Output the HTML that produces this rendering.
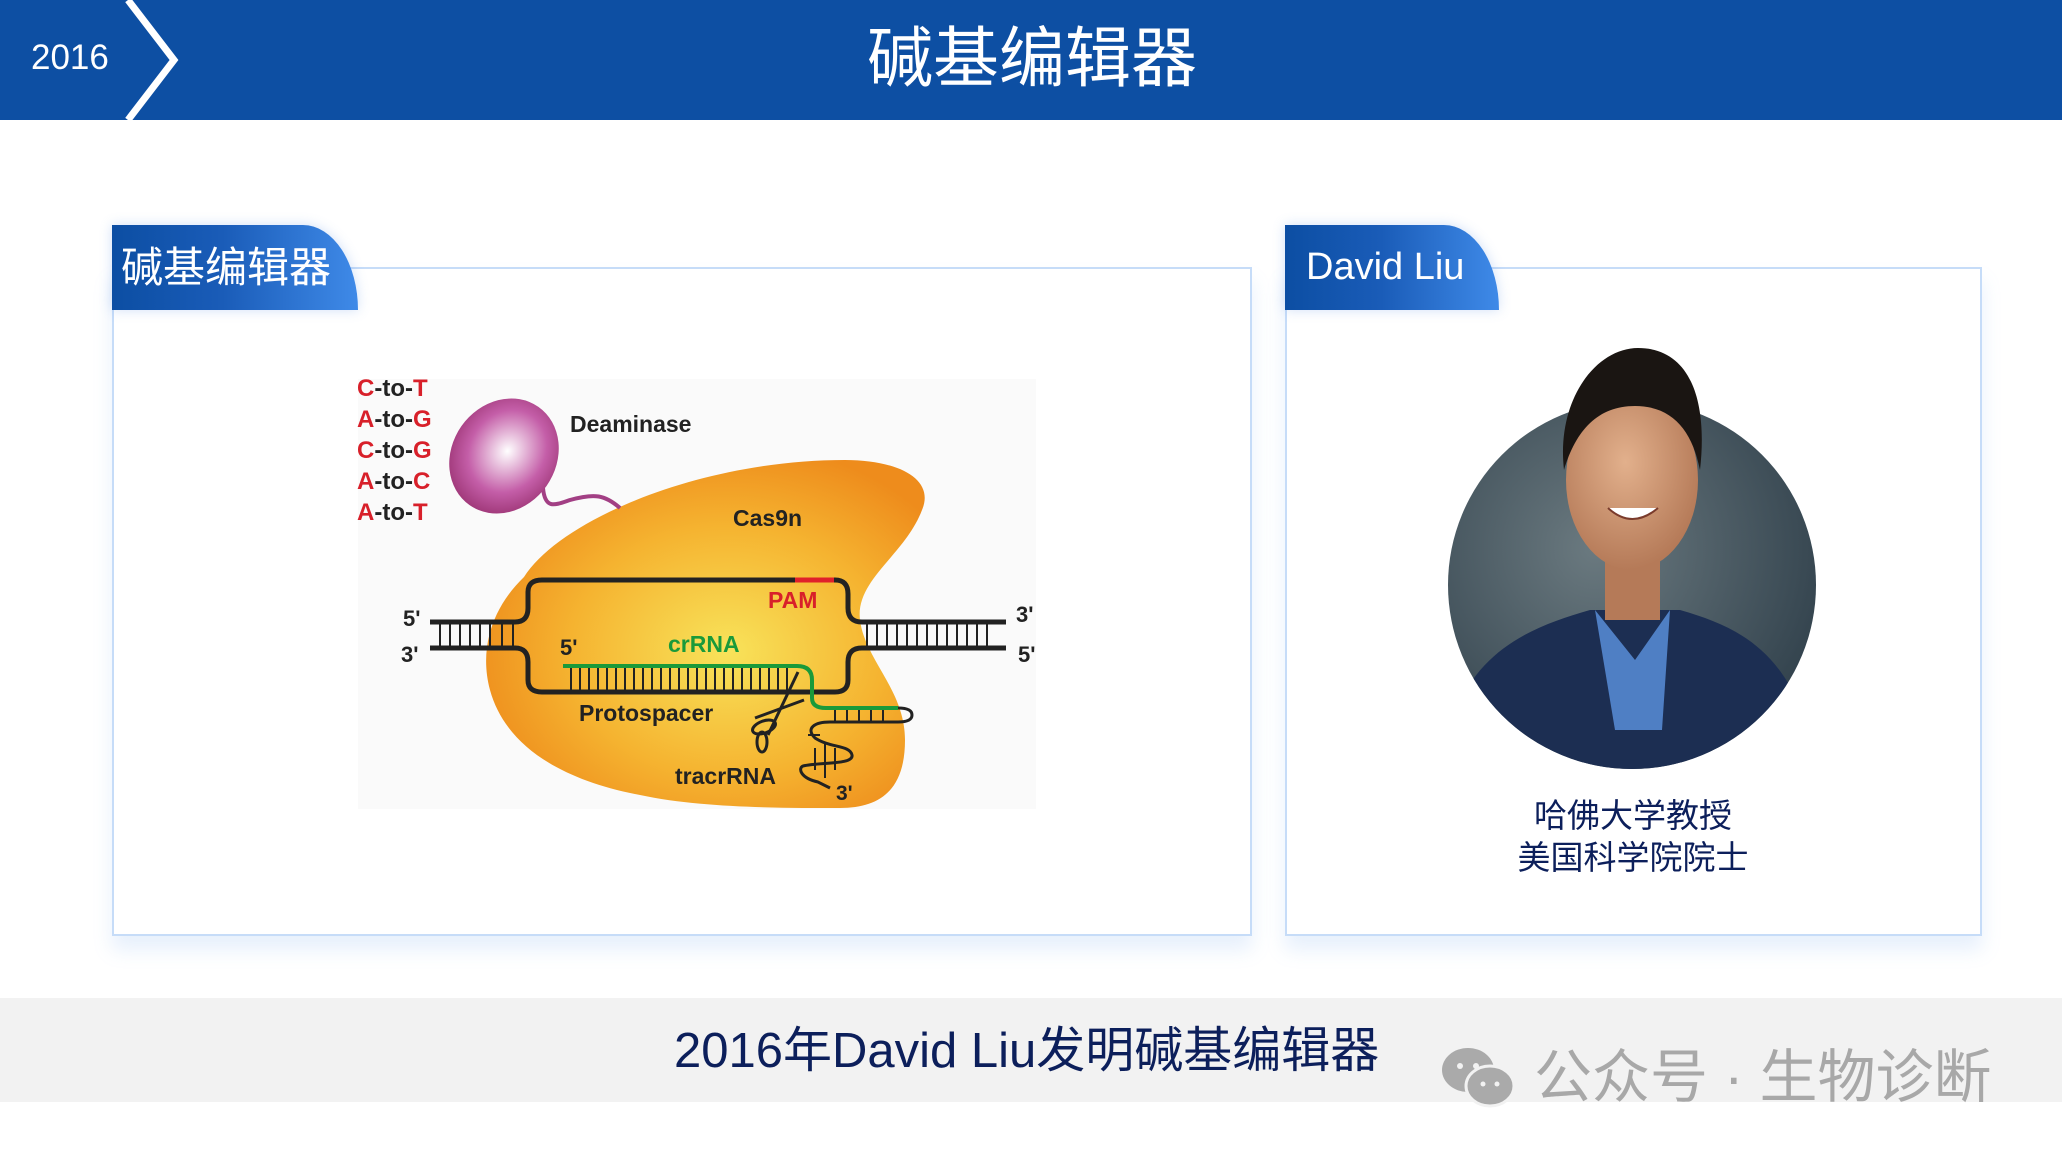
<!DOCTYPE html>
<html><head><meta charset="utf-8">
<style>
html,body{margin:0;padding:0;width:2062px;height:1160px;overflow:hidden;background:#fff;font-family:"Liberation Sans","Noto Sans CJK SC",sans-serif;}
.abs{position:absolute;}
#hdr{left:0;top:0;width:2062px;height:120px;background:#0d4fa3;}
.box{position:absolute;background:#fff;border:2px solid #c6dcf8;box-shadow:0 14px 18px rgba(120,170,240,0.18);}
.tab{position:absolute;height:85px;background:linear-gradient(90deg,#0c4ea3 0%,#1a5cb8 45%,#3f8ae8 100%);border-top-right-radius:55px 85px;color:#fff;font-size:42px;line-height:85px;box-shadow:0 0 12px rgba(100,150,230,0.3);}
</style></head><body>
<div id="hdr" class="abs"></div>
<svg class="abs" style="left:0;top:0" width="200" height="120"><polyline points="128,0 174,60 128,120" fill="none" stroke="#fff" stroke-width="7"/></svg>
<div class="abs" style="left:31px;top:38px;color:#fff;font-size:35px;">2016</div>
<div class="abs" style="left:0;width:2064px;top:18px;text-align:center;color:#fff;font-size:66px;line-height:80px;">碱基编辑器</div>

<div class="box" style="left:112px;top:267px;width:1136px;height:665px;"></div>
<div class="tab" style="left:112px;top:225px;width:246px;"><span style="padding-left:9px">碱基编辑器</span></div>
<div class="box" style="left:1285px;top:267px;width:693px;height:665px;"></div>
<div class="tab" style="left:1285px;top:225px;width:214px;font-size:38px;"><span style="padding-left:21px">David Liu</span></div>

<!-- diagram -->
<svg class="abs" style="left:0;top:0" width="1250" height="900">
<defs>
<radialGradient id="og" cx="0.55" cy="0.55" r="0.6"><stop offset="0" stop-color="#f8e35a"/><stop offset="0.6" stop-color="#f5b330"/><stop offset="1" stop-color="#ee8c1c"/></radialGradient>
<radialGradient id="pg" cx="0.5" cy="0.45" r="0.6"><stop offset="0" stop-color="#fff"/><stop offset="0.6" stop-color="#c45ea8"/><stop offset="1" stop-color="#98306f"/></radialGradient>
</defs>
<rect x="358" y="379" width="678" height="430" fill="#fafafa"/>
<path d="M524,577 C560,520 700,460 845,460 C900,460 935,480 922,510 C905,555 855,580 860,620 C865,660 905,690 905,740 C905,790 880,808 840,808 C780,808 700,808 640,795 C560,780 505,745 490,690 C478,645 495,605 524,577 Z" fill="url(#og)"/>
<path d="M543,488 C545,510 555,505 570,500 C595,493 605,495 620,508" fill="none" stroke="#a23f84" stroke-width="4"/>
<ellipse cx="504" cy="456" rx="52" ry="60" transform="rotate(35 504 456)" fill="url(#pg)"/>
<g font-family="Liberation Sans,sans-serif" font-weight="bold" font-size="24">
<text x="357" y="396"><tspan fill="#d8202a">C</tspan><tspan fill="#222">-to-</tspan><tspan fill="#d8202a">T</tspan></text>
<text x="357" y="427"><tspan fill="#d8202a">A</tspan><tspan fill="#222">-to-</tspan><tspan fill="#d8202a">G</tspan></text>
<text x="357" y="458"><tspan fill="#d8202a">C</tspan><tspan fill="#222">-to-</tspan><tspan fill="#d8202a">G</tspan></text>
<text x="357" y="489"><tspan fill="#d8202a">A</tspan><tspan fill="#222">-to-</tspan><tspan fill="#d8202a">C</tspan></text>
<text x="357" y="520"><tspan fill="#d8202a">A</tspan><tspan fill="#222">-to-</tspan><tspan fill="#d8202a">T</tspan></text>
<text x="570" y="432" fill="#222" font-size="23">Deaminase</text>
<text x="733" y="526" fill="#222" font-size="23">Cas9n</text>
<text x="768" y="608" fill="#d8202a" font-size="23">PAM</text>
<text x="668" y="652" fill="#1a9a3a" font-size="23">crRNA</text>
<text x="560" y="655" fill="#222" font-size="22">5'</text>
<text x="579" y="721" fill="#222" font-size="23">Protospacer</text>
<text x="675" y="784" fill="#222" font-size="23">tracrRNA</text>
<text x="836" y="800" fill="#222" font-size="21">3'</text>
<text x="403" y="626" fill="#222" font-size="22">5'</text>
<text x="401" y="662" fill="#222" font-size="22">3'</text>
<text x="1016" y="622" fill="#222" font-size="22">3'</text>
<text x="1018" y="662" fill="#222" font-size="22">5'</text>
</g>
<g fill="none" stroke="#222" stroke-width="5">
<path d="M430,622 L515,622 Q528,622 528,608 L528,592 Q528,580 542,580 L835,580 Q848,580 848,594 L848,608 Q848,622 862,622 L1006,622"/>
<path d="M430,648 L515,648 Q528,648 528,662 L528,680 Q528,692 542,692 L835,692 Q848,692 848,680 L848,662 Q848,648 862,648 L1006,648"/>
</g>
<line x1="795" y1="580" x2="834" y2="580" stroke="#e0202a" stroke-width="5"/>
<g stroke="#222" stroke-width="2">
<path d="M440,622V648M450,622V648M460,622V648M470,622V648M480,622V648M490,622V648M502,622V648M513,622V648"/>
<path d="M867,622V648M877,622V648M887,622V648M897,622V648M907,622V648M917,622V648M927,622V648M937,622V648M947,622V648M957,622V648M967,622V648M977,622V648M987,622V648"/>
<path d="M571,666V692M580,666V692M589,666V692M598,666V692M607,666V692M616,666V692M625,666V692M634,666V692M643,666V692M652,666V692M661,666V692M670,666V692M679,666V692M688,666V692M697,666V692M706,666V692M715,666V692M724,666V692M733,666V692M742,666V692M751,666V692M760,666V692M769,666V692M778,666V692M787,666V692"/>
<path d="M835,708V722M847,708V722M859,708V722M871,708V722M883,708V722"/>
<path d="M808,735H820M815,748V770M825,742V778M835,748V770"/>
</g>
<path d="M563,666 L797,666 Q812,666 812,680 L812,698 Q812,708 826,708 L898,708" fill="none" stroke="#1a9a3a" stroke-width="4"/>
<path d="M898,708 Q912,708 912,715 Q912,722 898,722 L830,722 C815,722 805,728 815,738 C830,748 850,745 852,755 C854,765 820,762 803,766 C798,768 800,778 818,782 L830,788" fill="none" stroke="#222" stroke-width="3"/>
<g stroke="#222" stroke-width="3" fill="none">
<line x1="798" y1="672" x2="768" y2="735"/><line x1="804" y1="700" x2="755" y2="718"/>
<ellipse cx="764" cy="727" rx="12" ry="6" transform="rotate(-20 764 727)"/>
<ellipse cx="762" cy="742" rx="5" ry="10"/>
</g>
</svg>

<!-- photo -->
<svg class="abs" style="left:1400px;top:330px" width="470" height="450">
<defs>
<clipPath id="cc"><circle cx="232" cy="255" r="184"/></clipPath>
<radialGradient id="bg" cx="0.4" cy="0.4" r="0.7"><stop offset="0" stop-color="#6b7a80"/><stop offset="1" stop-color="#2f3f4a"/></radialGradient>
<radialGradient id="sk" cx="0.45" cy="0.4" r="0.6"><stop offset="0" stop-color="#e2b08c"/><stop offset="1" stop-color="#b57a58"/></radialGradient>
</defs>
<circle cx="232" cy="255" r="184" fill="url(#bg)"/>
<g clip-path="url(#cc)">
<path d="M40,450 C50,330 120,300 190,280 L280,280 C350,300 400,330 420,450 Z" fill="#1c2e52"/>
<path d="M195,280 L235,330 L270,280 L262,400 L215,400 Z" fill="#4f7fc4"/>
</g>
<rect x="205" y="220" width="55" height="70" fill="#b57a58"/>
<ellipse cx="232" cy="150" rx="66" ry="90" fill="url(#sk)"/>
<path d="M164,140 C156,70 196,18 238,18 C290,18 308,70 300,140 C292,100 272,76 235,76 C198,76 176,100 164,140 Z" fill="#1a1512"/>
<path d="M208,178 Q232,200 258,178" fill="#fff" stroke="#7a3b2c" stroke-width="2"/>
</svg>
<div class="abs" style="left:1285px;width:696px;top:795px;text-align:center;color:#0c1f5b;font-size:33px;line-height:42px;">哈佛大学教授<br>美国科学院院士</div>

<div class="abs" style="left:0;top:998px;width:2062px;height:104px;background:#f2f2f2;"></div>
<div class="abs" style="left:674px;top:1020px;color:#0c1f5b;font-size:49px;line-height:62px;white-space:nowrap;">2016年David Liu发明碱基编辑器</div>
<svg class="abs" style="left:1440px;top:1042px" width="80" height="70">
<ellipse cx="28" cy="28" rx="26" ry="22" fill="#aaa"/><ellipse cx="50" cy="44" rx="24" ry="20" fill="#aaa" stroke="#f2f2f2" stroke-width="3"/>
<circle cx="20" cy="24" r="3" fill="#f2f2f2"/><circle cx="36" cy="24" r="3" fill="#f2f2f2"/>
<circle cx="43" cy="42" r="2.5" fill="#f2f2f2"/><circle cx="57" cy="42" r="2.5" fill="#f2f2f2"/>
</svg>
<div class="abs" style="left:1534px;top:1042px;color:#a8a8a8;font-size:58px;line-height:72px;white-space:nowrap;">公众号 · 生物诊断</div>
</body></html>
